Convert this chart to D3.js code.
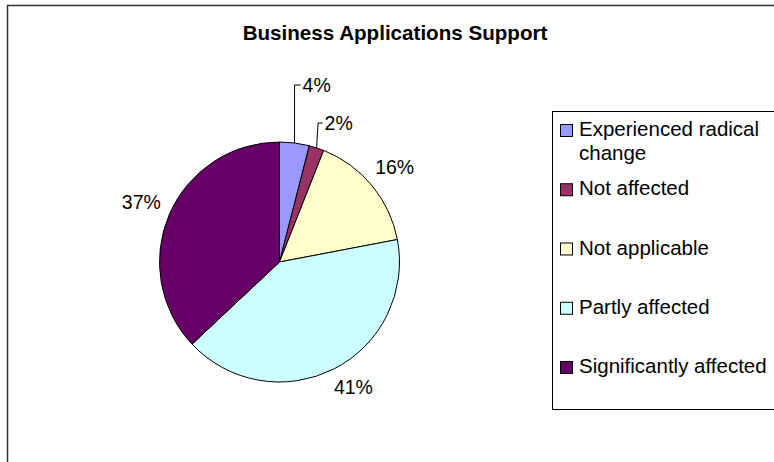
<!DOCTYPE html>
<html>
<head>
<meta charset="utf-8">
<script src="https://cdn.jsdelivr.net/npm/d3@7"></script>
<style>
  html, body { margin: 0; padding: 0; background: #fff; }
  svg { display: block; font-family: "Liberation Sans", Arial, sans-serif; }
</style>
</head>
<body>
<svg id="chart" width="774" height="462"></svg>
<script>
// Survey shares for "Business Applications Support"
const categories = [
  "Experienced radical change",
  "Not affected",
  "Not applicable",
  "Partly affected",
  "Significantly affected"
];
const shares = [4, 2, 16, 41, 37];
const sliceColors = ["#9999FF", "#993366", "#FFFFCC", "#CCFFFF", "#660066"];
const chartTitle = "Business Applications Support";

const W = 774, H = 462;
const svg = d3.select("#chart");

// Chart frame (runs off the right and bottom edges)
svg.append("rect")
  .attr("x", 7.5).attr("y", 5.5)
  .attr("width", W + 10).attr("height", H + 10)
  .attr("fill", "#fff").attr("stroke", "#333").attr("stroke-width", 1.5);

// Title
svg.append("text")
  .attr("x", 395).attr("y", 40)
  .attr("text-anchor", "middle")
  .attr("font-size", 20.6).attr("font-weight", "bold")
  .text(chartTitle);

// Pie
const cx = 279.5, cy = 262, r = 120;
const data = categories.map((c, i) => ({ name: c, value: shares[i], color: sliceColors[i] }));
const pie = d3.pie().value(d => d.value).sort(null);
const arcs = pie(data);
const arc = d3.arc().innerRadius(0).outerRadius(r);
const color = d3.scaleOrdinal().domain(categories).range(sliceColors);

const g = svg.append("g").attr("transform", `translate(${cx},${cy})`);
g.selectAll("path.slice")
  .data(arcs)
  .join("path")
  .attr("class", "slice")
  .attr("d", arc)
  .attr("fill", d => color(d.data.name))
  .attr("stroke", "#000")
  .attr("stroke-width", 1);

// Percentage labels
const fmt = d => Math.round(d.data.value) + "%";
const labelSize = 19.5;
// thin slices get a leader line lifted above the pie
const leaderLift = { 0: 57, 1: 19 };
const pad = 9;

arcs.forEach((d, i) => {
  const a = (d.startAngle + d.endAngle) / 2;
  const dx = Math.sin(a), dy = -Math.cos(a);
  if (leaderLift[i] !== undefined) {
    const px = dx * r, py = dy * r;
    const ly = -r - leaderLift[i];
    g.append("path")
      .attr("d", `M${px},${py}L${px + (i === 1 ? 1.5 : 0)},${ly}L${px + 6},${ly}`)
      .attr("fill", "none").attr("stroke", "#000").attr("stroke-width", 1);
    g.append("text")
      .attr("x", px + 8).attr("y", ly)
      .attr("dy", "0.36em")
      .attr("font-size", labelSize)
      .text(fmt(d));
  } else {
    const hw = 20, hh = 8;
    const ext = Math.abs(dx) * hw + Math.abs(dy) * hh;
    const R = r + pad + ext;
    // nudge toward horizontal for labels below the pie
    const shift = dy > 0.5 ? 8 : 0;
    g.append("text")
      .attr("x", dx * R + shift).attr("y", dy * R - shift * 0.6)
      .attr("text-anchor", "middle")
      .attr("dy", "0.36em")
      .attr("font-size", labelSize)
      .text(fmt(d));
  }
});

// Legend
const lg = svg.append("g");
lg.append("rect")
  .attr("x", 552.5).attr("y", 111.5)
  .attr("width", 240).attr("height", 298)
  .attr("fill", "#fff").attr("stroke", "#000").attr("stroke-width", 1);

const legendLines = [["Experienced radical", "change"], ["Not affected"], ["Not applicable"], ["Partly affected"], ["Significantly affected"]];
const ly = d3.scalePoint().domain(categories).range([136, 373]);
categories.forEach((c, i) => {
  const y = ly(c);
  lg.append("rect")
    .attr("x", 560.5).attr("y", y - 11.5)
    .attr("width", 12).attr("height", 12)
    .attr("fill", color(c)).attr("stroke", "#000").attr("stroke-width", 1);
  const t = lg.append("text")
    .attr("x", 579).attr("y", y)
    .attr("font-size", 20.5);
  legendLines[i].forEach((line, k) => {
    t.append("tspan").attr("x", 579).attr("dy", k === 0 ? 0 : 24).text(line);
  });
});
</script>
</body>
</html>
